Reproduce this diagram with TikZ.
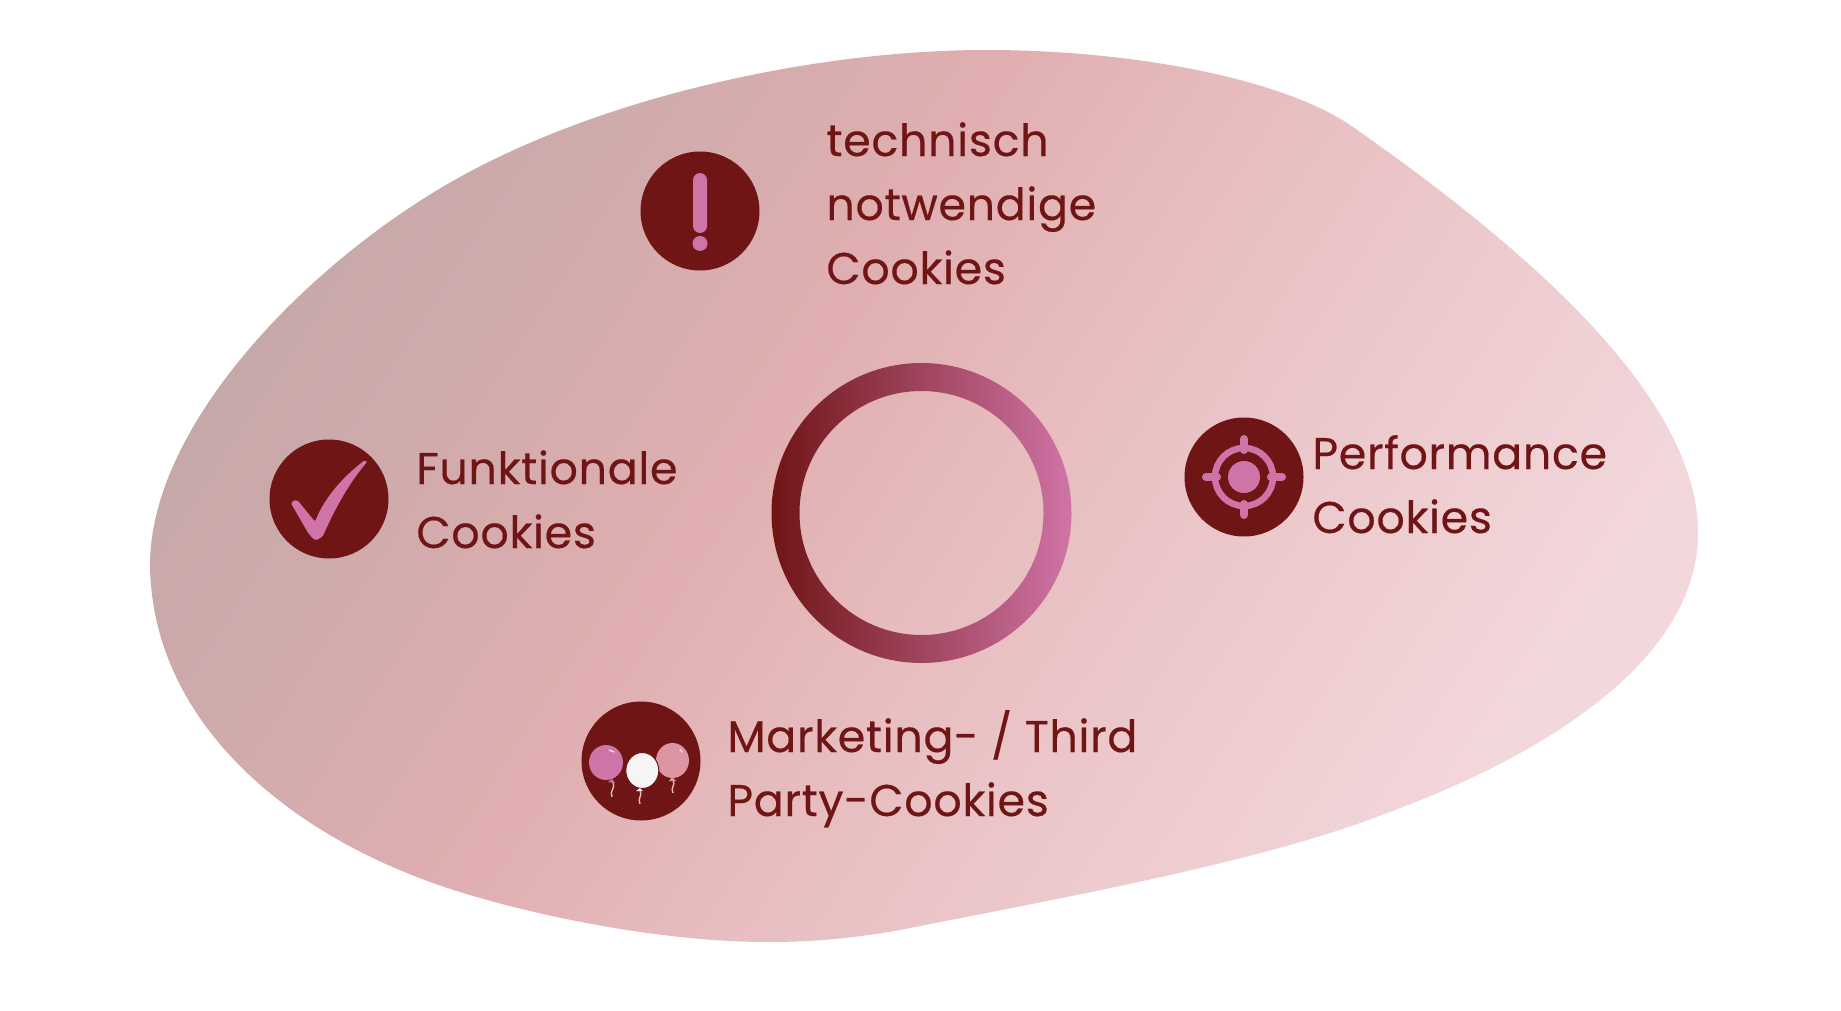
\documentclass[tikz,border=0pt]{standalone}
\usepackage{fontspec}
\setmainfont[FakeBold=0.35,LetterSpace=1.5]{Poppins}
\definecolor{dark}{HTML}{6F1515}
\definecolor{pink}{HTML}{CF74A6}
\definecolor{rosy}{HTML}{DE95A3}
\definecolor{bA}{HTML}{C6A8A8}
\definecolor{bB}{HTML}{D1ABAC}
\definecolor{bC}{HTML}{E0AEB0}
\definecolor{bD}{HTML}{E7BCBE}
\definecolor{bE}{HTML}{F2D7DB}
\pgfdeclarehorizontalshading{blobshade}{100bp}{color(0bp)=(bA); color(24bp)=(bA); color(33bp)=(bB); color(43bp)=(bC); color(52bp)=(bD); color(74bp)=(bE); color(100bp)=(bE)}
\tikzset{
  icon/.style={circle,fill=dark,minimum size=59.5pt,inner sep=0pt},
  lab/.style={text=dark,anchor=base west,align=left,inner sep=0pt,font=\fontsize{22.2}{32}\selectfont},
  glyph/.style={fill=pink,draw=none},
}
\begin{document}
\begin{tikzpicture}[x=0.5pt,y=-0.5pt]
\useasboundingbox (0,0) rectangle (1841,1011);
\fill[white] (0,0) rectangle (1841,1011);
\path[shading=blobshade,shading angle=-33]
 (986,50) .. controls (1130,50) and (1283,78) .. (1353,127)
 .. controls (1543,260) and (1698,403) .. (1698,533)
 .. controls (1698,660) and (1545,755) .. (1387,813)
 .. controls (1260,863) and (1050,900) .. (900,930)
 .. controls (855,938) and (815,942) .. (768,942)
 .. controls (640,942) and (480,904) .. (407,873)
 .. controls (280,822) and (152,718) .. (150,565)
 .. controls (150,420) and (320,250) .. (473,170)
 .. controls (625,90) and (830,50) .. (986,50) -- cycle;
% ring
\shade[left color=dark,right color=pink,even odd rule]
 (921.5,513) circle[radius=150] (921.5,513) circle[radius=122];
% icons
\node[icon] (must) at (700,211) {};
\node[icon] (func) at (329,499) {};
\node[icon] (perf) at (1244,477) {};
\node[icon] (mkt) at (641,761) {};
% exclamation
\fill[glyph,rounded corners=3.5pt] (693,173) rectangle (707,233);
\fill[glyph] (700,243.5) circle[radius=7.5];
% check
\fill[glyph,rounded corners=1pt] (290.7,502.7) -- (296.7,499.3) -- (315,521.7) .. controls (325,497) and (343,477) .. (365,460) -- (367.3,461.7) .. controls (350,482) and (335,508) .. (322.7,536.7) -- (315,540.7) -- (308.3,533.3) -- cycle;
% target
\draw[pink,line width=3.25pt] (perf.center) circle[radius=29];
\fill[glyph] (perf.center) circle[radius=16];
\draw[pink,line width=4pt,line cap=round] (1244,439) -- (1244,450) (1244,504) -- (1244,515) (1206,477) -- (1217,477) (1271,477) -- (1282,477);
% balloons
\draw[rosy!70!white,line width=0.7pt] (613,782) .. controls (616,788) and (609,791) .. (612,797);
\draw[rosy!70!white,line width=0.7pt] (640,790) .. controls (643,796) and (637,798) .. (640,804);
\draw[rosy!70!white,line width=0.7pt] (673,780) .. controls (676,785) and (670,788) .. (673,793);
\fill[pink] (606,762.5) ellipse[x radius=17,y radius=17.5];
\fill[pink] (612,779) -- (608,782) -- (615,783) -- cycle;
\fill[rosy] (672.5,760.5) ellipse[x radius=16.5,y radius=17.5];
\fill[rosy] (672,777) -- (669,781) -- (676,781) -- cycle;
\filldraw[fill=white!96!black,draw=dark,line width=0.5pt] (642.3,770.5) ellipse[x radius=16.5,y radius=18];
\fill[white!96!black] (640,788) -- (636,791) -- (643,791) -- cycle;
\draw[white!80!pink,line width=0.6pt,line cap=round] (609,750) -- (614,752) (680,749) -- (682,752);
% labels
\node[lab] (tA) at (826,284) {technisch\\notwendige\\Cookies};
\node[lab] (tB) at (416,548) {Funktionale\\Cookies};
\node[lab] (tC) at (1312,533) {Performance\\Cookies};
\node[lab] (tD) at (727,816) {Marketing- / Third\\Party-Cookies};
\end{tikzpicture}
\end{document}
